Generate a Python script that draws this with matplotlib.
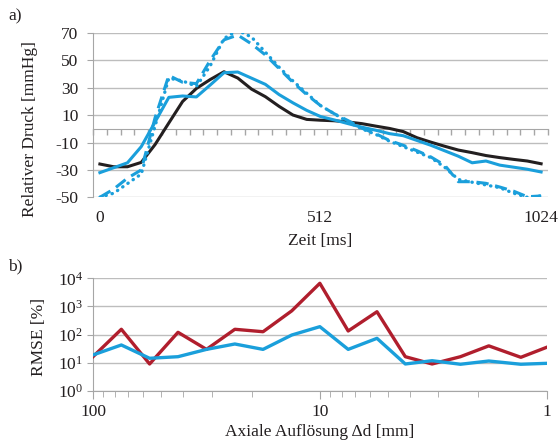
import numpy as np
import matplotlib
matplotlib.use("Agg")
import matplotlib.pyplot as plt
from matplotlib.ticker import FixedLocator, NullFormatter, NullLocator, LogLocator, FixedFormatter

plt.rcParams['font.family'] = ['Liberation Serif', 'DejaVu Serif']
plt.rcParams['font.size'] = 12.5
plt.rcParams['axes.unicode_minus'] = False
plt.rcParams['text.color'] = '#231F20'
plt.rcParams['axes.labelcolor'] = '#231F20'
plt.rcParams['xtick.color'] = '#231F20'
plt.rcParams['ytick.color'] = '#231F20'

# ---- panel a): pressure curves over one cycle ----
time_ms = np.arange(0, 1025, 32)

p_reference = [-25.7, -27.7, -27.7, -24.5, -11.5, 4.3, 20, 29.5, 36, 41.7, 37.1,
               29, 23.5, 16.4, 10.1, 6.9, 6.3, 5.9, 5, 3.8, 2, 0.3, -2, -6.5,
               -9.7, -12.7, -15.5, -17.4, -19.5, -21, -22.3, -23.5, -25.5]
p_solid = [-32, -28.4, -24.8, -13, 5, 23, 24, 23.3, 32, 41, 41.5,
           37, 32.5, 25, 19, 13.5, 9, 6.5, 3.8, 1.2, -1, -3.5, -5, -8.5,
           -12, -16, -20, -24.8, -23.5, -26.5, -28, -29.5, -31.5]
p_dashed = [-50, -44, -36, -30, 8, 39, 34, 33, 50, 65, 68.5,
            62, 54, 44, 34, 25, 17, 11, 6, 0.5, -3.5, -8.5, -12, -16,
            -20.5, -26.5, -38.6, -38.6, -39.8, -42.5, -45.5, -49.6, -49]
p_dotted = [-50, -47, -40, -33, 2, 37, 35, 31, 46, 66, 72,
            67, 56, 45, 35, 26, 17, 11, 5, 0, -4, -9, -13, -17,
            -21, -28, -37, -39, -41, -43, -47, -50, -49]
time_ticks = [0, 512, 1024]
pressure_ticks = [-50, -30, -10, 10, 30, 50, 70]

# ---- panel b): error versus axial resolution ----
resolution_mm = [100, 75, 56.3, 42.2, 31.6, 23.7, 17.8, 13.3, 10,
                 7.5, 5.6, 4.2, 3.2, 2.4, 1.8, 1.3, 1]
rmse_red = [16.5, 155, 9.1, 121, 30, 155, 127, 700, 6650,
            135, 650, 16.5, 9.1, 16.5, 40, 15.7, 35.6]
rmse_blue = [19, 43, 14.5, 16.5, 30, 46.6, 30, 97, 192,
             30, 74, 9.1, 11.9, 8.9, 11.6, 8.9, 9.6]
res_ticks = [100, 10, 1]
res_labels = ['100', '10', '1']
rmse_ticks = [1, 10, 100, 1000, 10000]
rmse_labels = [r'$\mathregular{10^{%d}}$' % k for k in range(5)]

BLUE = '#1A9FDB'
RED = '#B01E2D'
BLACK = '#231F20'
GRID = '#BDBDBD'
AXIS = '#A6A6A6'

W, H = 560, 442
fig = plt.figure(figsize=(W / 100, H / 100), dpi=100)

ax1 = fig.add_axes([93 / W, 1 - 197.3 / H, 455 / W, 164.3 / H])
ax1.set_xlim(-16, 1040)
ax1.set_ylim(-50, 70)
ax1.set_yticks(pressure_ticks)
ax1.set_xticks(time_ticks)
ax1.yaxis.grid(True, color=GRID, lw=1.0)
ax1.set_axisbelow(True)
for s in ('top', 'right', 'bottom'):
    ax1.spines[s].set_visible(False)
ax1.spines['left'].set_color(AXIS)
ax1.tick_params(axis='y', direction='out', length=4, color=AXIS, pad=6.5)
ax1.tick_params(axis='x', length=0, pad=9)

# zero line with category tick marks
zero_axis = ax1.secondary_xaxis(50 / 120)
zero_axis.set_xticks(np.arange(-16, 1041, 32))
zero_axis.xaxis.set_major_formatter(NullFormatter())
zero_axis.tick_params(direction='out', length=4, color=AXIS, width=1)
zero_axis.spines['bottom'].set_color(AXIS)
zero_axis.spines['top'].set_visible(False)

ax1.plot(time_ms, p_reference, color=BLACK, lw=2.2, zorder=3)
ax1.plot(time_ms, p_solid, color=BLUE, lw=2.2, zorder=3)
ax1.plot(time_ms, p_dashed, color=BLUE, lw=2.2, dashes=(4, 2.2), zorder=3)
ax1.plot(time_ms, p_dotted, color=BLUE, lw=2.4, linestyle=(0, (0.1, 1.8)),
         dash_capstyle='round', zorder=3)

ax1.set_ylabel('Relativer Druck [mmHg]')
ax1.yaxis.set_label_coords(-0.121, 0.413)
ax1.set_xlabel('Zeit [ms]', labelpad=5)

ax2 = fig.add_axes([93 / W, 1 - 391 / H, 453.7 / W, 112.7 / H])
ax2.set_xscale('log')
ax2.set_yscale('log')
ax2.set_xlim(100, 1)
ax2.set_ylim(1, 1e4)
ax2.yaxis.set_major_locator(FixedLocator(rmse_ticks))
ax2.yaxis.set_major_formatter(FixedFormatter(rmse_labels))
ax2.yaxis.set_minor_locator(NullLocator())
ax2.xaxis.set_major_locator(FixedLocator(res_ticks))
ax2.xaxis.set_major_formatter(FixedFormatter(res_labels))
ax2.xaxis.set_minor_locator(LogLocator(base=10, subs=np.arange(2, 10)))
ax2.xaxis.set_minor_formatter(NullFormatter())
ax2.yaxis.grid(True, which='major', color=GRID, lw=1.0)
ax2.set_axisbelow(True)
for s in ('top', 'right'):
    ax2.spines[s].set_visible(False)
for s in ('left', 'bottom'):
    ax2.spines[s].set_color(AXIS)
ax2.tick_params(axis='y', which='major', direction='out', length=4,
                color=AXIS, pad=3)
ax2.tick_params(axis='x', which='major', direction='out', length=5.5,
                color=AXIS, pad=4)
ax2.tick_params(axis='x', which='minor', direction='out', length=4,
                color=AXIS)

ax2.plot(resolution_mm, rmse_red, color=RED, lw=2.4, zorder=3)
ax2.plot(resolution_mm, rmse_blue, color=BLUE, lw=2.4, zorder=3)

ax2.set_ylabel('RMSE [%]')
ax2.yaxis.set_label_coords(-0.101, 0.475)
ax2.set_xlabel('Axiale Auflösung Δd [mm]', labelpad=3)

fig.text(8 / W, 1 - 16 / H, 'a)', ha='left', va='center')
fig.text(8 / W, 1 - 266 / H, 'b)', ha='left', va='center')

fig.savefig('out.png', dpi=100)
